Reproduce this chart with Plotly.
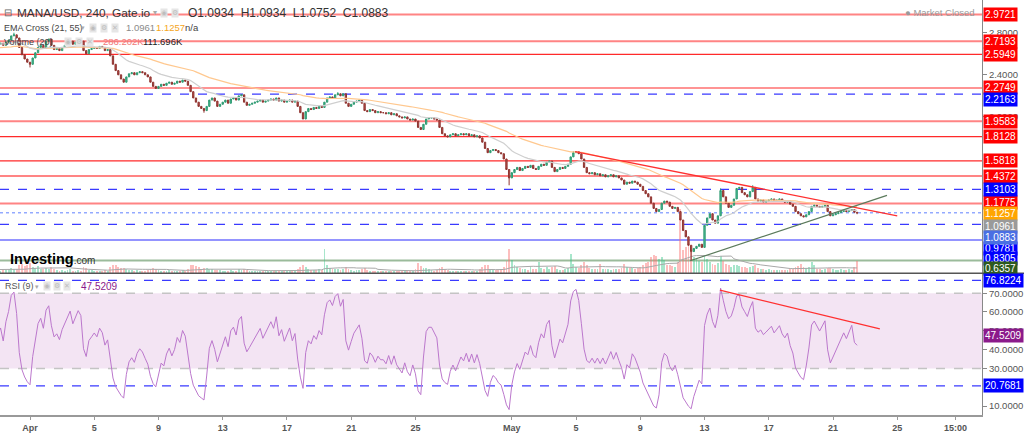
import plotly.graph_objects as go
import pandas as pd
import numpy as np

# ---------------- DATA ----------------
warmup_start = "2022-03-24 00:00"
warmup_closes = [2.58, 2.60, 2.62, 2.61, 2.63, 2.64,
                 2.62, 2.60, 2.63, 2.65, 2.66, 2.64,
                 2.62, 2.63, 2.61, 2.64, 2.66, 2.65,
                 2.66, 2.68, 2.67, 2.70, 2.72, 2.71,
                 2.74, 2.76, 2.73, 2.71, 2.70, 2.72,
                 2.73, 2.71, 2.69, 2.70, 2.68, 2.70]
warmup_volumes = [80, 70, 75, 90, 85, 70, 75, 80, 70, 65, 90, 80,
                  70, 60, 65, 75, 80, 70, 85, 90, 80, 95, 100, 85,
                  90, 95, 80, 70, 75, 80, 85, 75, 70, 65, 60, 70]

# 4h closes, one row per day, from Mar 30 00:00
closes_by_day = [
    [2.69, 2.70, 2.68, 2.71, 2.73, 2.77],  # Mar 30
    [2.78, 2.75, 2.66, 2.59, 2.55, 2.52],  # Mar 31
    [2.50, 2.56, 2.61, 2.66, 2.68, 2.65],  # Apr 1
    [2.72, 2.74, 2.68, 2.64, 2.65, 2.63],
    [2.66, 2.68, 2.70, 2.72, 2.69, 2.71],
    [2.73, 2.72, 2.63, 2.60, 2.64, 2.65],
    [2.66, 2.65, 2.67, 2.66, 2.63, 2.64],  # Apr 5
    [2.58, 2.50, 2.44, 2.40, 2.36, 2.33],
    [2.38, 2.41, 2.42, 2.40, 2.42, 2.43],
    [2.42, 2.40, 2.38, 2.33, 2.29, 2.27],
    [2.29, 2.31, 2.30, 2.32, 2.33, 2.31],  # Apr 9
    [2.32, 2.34, 2.33, 2.35, 2.34, 2.30],
    [2.24, 2.18, 2.14, 2.10, 2.08, 2.06],
    [2.10, 2.16, 2.18, 2.15, 2.10, 2.12],
    [2.14, 2.16, 2.13, 2.17, 2.18, 2.16],  # Apr 13
    [2.20, 2.21, 2.14, 2.11, 2.12, 2.13],
    [2.14, 2.15, 2.16, 2.14, 2.15, 2.16],
    [2.17, 2.16, 2.18, 2.15, 2.16, 2.14],
    [2.15, 2.16, 2.14, 2.15, 2.10, 2.04],  # Apr 17
    [1.98, 2.05, 2.08, 2.07, 2.09, 2.08],
    [2.10, 2.09, 2.14, 2.18, 2.19, 2.18],
    [2.21, 2.22, 2.20, 2.22, 2.13, 2.10],
    [2.12, 2.14, 2.15, 2.16, 2.13, 2.06],  # Apr 21
    [2.05, 2.07, 2.06, 2.04, 2.05, 2.04],
    [2.04, 2.03, 2.04, 2.02, 2.03, 2.01],
    [2.00, 1.99, 2.00, 1.98, 1.97, 1.98],
    [1.96, 1.90, 1.88, 1.93, 1.98, 1.99],  # Apr 25
    [1.99, 1.98, 1.97, 1.90, 1.84, 1.82],
    [1.81, 1.83, 1.84, 1.82, 1.83, 1.84],
    [1.83, 1.84, 1.82, 1.83, 1.81, 1.82],
    [1.80, 1.76, 1.70, 1.66, 1.68, 1.69],
    [1.68, 1.66, 1.65, 1.60, 1.50, 1.42],  # Apr 30
    [1.47, 1.50, 1.52, 1.49, 1.51, 1.53],  # May 1
    [1.52, 1.54, 1.51, 1.50, 1.53, 1.55],
    [1.54, 1.57, 1.58, 1.52, 1.48, 1.50],
    [1.52, 1.51, 1.53, 1.55, 1.62, 1.66],
    [1.67, 1.65, 1.60, 1.52, 1.47, 1.46],  # May 5
    [1.47, 1.45, 1.46, 1.44, 1.45, 1.43],
    [1.44, 1.45, 1.43, 1.44, 1.42, 1.40],
    [1.36, 1.38, 1.37, 1.39, 1.38, 1.36],
    [1.34, 1.30, 1.27, 1.24, 1.18, 1.13],  # May 9
    [1.10, 1.12, 1.18, 1.20, 1.19, 1.15],
    [1.13, 1.14, 1.10, 1.02, 0.92, 0.86],
    [0.78, 0.72, 0.75, 0.77, 0.79, 0.76],
    [0.97, 1.04, 1.08, 1.02, 0.99, 1.06],  # May 13
    [1.30, 1.24, 1.18, 1.14, 1.16, 1.22],
    [1.32, 1.33, 1.28, 1.26, 1.24, 1.29],
    [1.33, 1.22, 1.20, 1.21, 1.19, 1.20],
    [1.21, 1.22, 1.20, 1.21, 1.22, 1.20],  # May 17
    [1.19, 1.20, 1.17, 1.15, 1.10, 1.08],
    [1.06, 1.05, 1.07, 1.10, 1.15, 1.16],
    [1.15, 1.14, 1.15, 1.16, 1.10, 1.06],
    [1.07, 1.08, 1.09, 1.10, 1.11, 1.10],  # May 21
    [1.11, 1.12, 1.0934, 1.0883],          # May 22
]

volumes_by_day = [  # thousands
    [60, 55, 70, 65, 90, 120],
    [110, 95, 180, 220, 160, 200],
    [230, 150, 120, 160, 110, 90],
    [130, 100, 140, 90, 70, 60],
    [70, 60, 80, 90, 60, 55],
    [70, 60, 150, 120, 80, 70],
    [60, 50, 55, 60, 70, 55],
    [140, 200, 190, 150, 120, 130],
    [100, 80, 70, 60, 65, 60],
    [55, 60, 80, 110, 120, 100],
    [70, 60, 55, 60, 65, 50],
    [55, 60, 50, 65, 60, 90],
    [180, 200, 160, 140, 110, 120],
    [130, 100, 90, 80, 70, 65],
    [60, 55, 60, 70, 60, 50],
    [90, 80, 100, 70, 60, 55],
    [50, 45, 50, 55, 50, 45],
    [50, 45, 55, 50, 45, 50],
    [50, 55, 50, 60, 110, 150],
    [200, 150, 100, 80, 70, 75],
    [90, 70, 560, 180, 120, 100],
    [110, 100, 80, 90, 140, 110],
    [70, 60, 65, 70, 90, 130],
    [80, 60, 50, 55, 50, 45],
    [45, 50, 45, 55, 50, 45],
    [50, 45, 50, 60, 55, 50],
    [110, 230, 160, 120, 130, 90],
    [70, 60, 65, 120, 150, 110],
    [70, 60, 55, 60, 50, 55],
    [50, 55, 60, 50, 60, 55],
    [110, 150, 200, 180, 100, 80],
    [80, 70, 90, 150, 280, 540],
    [300, 180, 150, 120, 110, 90],
    [80, 150, 110, 90, 260, 120],
    [90, 140, 110, 150, 170, 100],
    [80, 70, 90, 120, 430, 220],
    [150, 120, 200, 250, 180, 130],
    [110, 90, 100, 220, 100, 90],
    [90, 80, 100, 90, 110, 120],
    [220, 150, 120, 130, 110, 120],
    [140, 200, 230, 260, 380, 420],
    [400, 330, 380, 300, 200, 180],
    [170, 150, 250, 1450, 520, 600],
    [640, 480, 380, 320, 280, 260],
    [420, 330, 260, 220, 200, 240],
    [400, 280, 220, 180, 150, 180],
    [190, 160, 150, 140, 130, 150],
    [170, 200, 120, 100, 90, 80],
    [90, 80, 70, 75, 80, 70],
    [80, 70, 90, 100, 150, 170],
    [220, 150, 120, 140, 260, 200],
    [110, 90, 80, 100, 130, 120],
    [90, 80, 85, 90, 80, 85],
    [90, 80, 150, 286.202],
]

wick_highs = {"2022-03-31 00:00": 2.80, "2022-04-20 04:00": 2.235,
              "2022-05-04 20:00": 1.675, "2022-05-16 00:00": 1.35,
              "2022-05-14 00:00": 1.32}
wick_lows = {"2022-04-01 00:00": 2.47, "2022-04-30 20:00": 1.35,
             "2022-05-12 04:00": 0.636, "2022-04-11 20:00": 2.04,
             "2022-05-22 12:00": 1.0752}

red_levels = [2.9721, 2.7193, 2.5949, 2.2749, 1.9583, 1.8128, 1.5818, 1.4372, 1.1775]
blue_dash_levels = [2.2163, 1.3103, 0.9781]
blue_solid_levels = [0.8305]
green_levels = [0.6357]
last_price = 1.0883
ema_fast_last, ema_slow_last = 1.0961, 1.1257
rsi_dash_levels = [76.8224, 20.7681]
rsi_last = 47.5209
vol_last, vol_ma_last = "286.202K", "111.696K"

price_ticks = [2.0, 2.4, 2.8]
rsi_ticks = [10, 30, 40, 50, 60, 70]

trend_red_dates = ["2022-05-04 22:30", "2022-05-25 00:00"]
trend_red_prices = [1.671, 1.059]
trend_green_dates = ["2022-05-12 02:30", "2022-05-24 08:40"]
trend_green_prices = [0.633, 1.254]
rsi_trend_dates = ["2022-05-13 23:00", "2022-05-23 22:00"]
rsi_trend_values = [71.6, 51.0]

tick_dates = ["2022-04-01 00:00", "2022-04-05 00:00", "2022-04-09 00:00", "2022-04-13 00:00",
              "2022-04-17 00:00", "2022-04-21 00:00", "2022-04-25 00:00", "2022-05-01 00:00",
              "2022-05-05 00:00", "2022-05-09 00:00", "2022-05-13 00:00", "2022-05-17 00:00",
              "2022-05-21 00:00", "2022-05-25 00:00", "2022-05-28 15:00"]
tick_text = ["Apr", "5", "9", "13", "17", "21", "25", "May", "5", "9", "13", "17", "21", "25", "15:00"]

# ---------------- DERIVED ----------------
closes = [v for d in closes_by_day for v in d]
volumes = [v for d in volumes_by_day for v in d]
all_c = pd.Series(warmup_closes + closes,
                  index=pd.date_range(warmup_start, periods=len(warmup_closes) + len(closes), freq="4h"))
all_v = pd.Series(warmup_volumes + volumes, index=all_c.index)
opens = all_c.shift(1).fillna(all_c.iloc[0])
highs = np.maximum(opens, all_c)
lows = np.minimum(opens, all_c)
for k, v in wick_highs.items():
    highs[pd.Timestamp(k)] = v
for k, v in wick_lows.items():
    lows[pd.Timestamp(k)] = v
ema21 = all_c.ewm(span=21, adjust=False).mean()
ema55 = all_c.ewm(span=55, adjust=False).mean()
vol_ma = all_v.rolling(20, min_periods=1).mean()
delta = all_c.diff().fillna(0)
ag = delta.clip(lower=0).ewm(alpha=1 / 9, adjust=False).mean()
al = (-delta.clip(upper=0)).ewm(alpha=1 / 9, adjust=False).mean()
rsi = 100 - 100 / (1 + ag / al)
idx = all_c.index

# ---------------- LAYOUT HELPERS ----------------
PLOT_R, MAIN_B, PLOT_B = 982, 276, 419
def px(x): return x / PLOT_R
def py(y): return 1 - y / PLOT_B

FONT = "Liberation Sans, Arial, sans-serif"
x_range = [pd.Timestamp("2022-04-01") - pd.Timedelta(days=30 / 16.06),
           pd.Timestamp("2022-04-01") + pd.Timedelta(days=952 / 16.06)]

fig = go.Figure()

vol_colors = ["rgba(60,200,140,0.45)" if c >= o else "rgba(250,110,110,0.45)"
              for o, c in zip(opens, all_c)]
fig.add_trace(go.Bar(x=idx, y=all_v, marker=dict(color=vol_colors, line=dict(width=0)),
                     xaxis="x", yaxis="y", width=4 * 3600 * 1000 * 0.7))
fig.add_trace(go.Scatter(x=idx, y=vol_ma, mode="lines", line=dict(color="#a8a8a8", width=1),
                         xaxis="x", yaxis="y"))
fig.add_trace(go.Scatter(x=idx, y=ema55, mode="lines", line=dict(color="#ffc88f", width=1.2),
                         xaxis="x", yaxis="y3"))
fig.add_trace(go.Scatter(x=idx, y=ema21, mode="lines", line=dict(color="#cfcfcf", width=1.2),
                         xaxis="x", yaxis="y3"))
fig.add_trace(go.Candlestick(x=idx, open=opens, high=highs, low=lows, close=all_c,
                             xaxis="x", yaxis="y3", whiskerwidth=0,
                             increasing=dict(line=dict(color="#2f9a72", width=1), fillcolor="#4cc39a"),
                             decreasing=dict(line=dict(color="#8e3430", width=1), fillcolor="#c0504d")))
fig.add_trace(go.Scatter(x=pd.to_datetime(trend_red_dates), y=trend_red_prices, mode="lines",
                         line=dict(color="#ff3030", width=1.3), xaxis="x", yaxis="y3"))
fig.add_trace(go.Scatter(x=pd.to_datetime(trend_green_dates), y=trend_green_prices, mode="lines",
                         line=dict(color="#5b7a5b", width=1.2), xaxis="x", yaxis="y3"))
fig.add_trace(go.Scatter(x=idx, y=rsi, mode="lines", line=dict(color="#bb77cc", width=1),
                         xaxis="x2", yaxis="y2"))
fig.add_trace(go.Scatter(x=pd.to_datetime(rsi_trend_dates), y=rsi_trend_values, mode="lines",
                         line=dict(color="#ff3030", width=1.2), xaxis="x2", yaxis="y2"))

shapes = []
thick_pink = {2.9721, 2.7193, 1.9583, 1.4372, 1.1775}
for v in red_levels:
    if v in thick_pink:
        ln = dict(color="rgba(255,80,80,0.7)", width=2)
    else:
        ln = dict(color="#ff2a2a", width=1.2)
    shapes.append(dict(type="line", xref="paper", x0=0, x1=1, yref="y3", y0=v, y1=v, line=ln, layer="below"))
for v in blue_dash_levels:
    shapes.append(dict(type="line", xref="paper", x0=0, x1=1, yref="y3", y0=v, y1=v,
                       line=dict(color="#3a3aff", width=1.2, dash="dash"), layer="below"))
for v in blue_solid_levels:
    shapes.append(dict(type="line", xref="paper", x0=0, x1=1, yref="y3", y0=v, y1=v,
                       line=dict(color="#7070ff", width=1.5), layer="below"))
for v in green_levels:
    shapes.append(dict(type="line", xref="paper", x0=0, x1=1, yref="y3", y0=v, y1=v,
                       line=dict(color="#9bbb9b", width=2), layer="below"))
shapes.append(dict(type="line", xref="paper", x0=0, x1=1, yref="y3", y0=last_price, y1=last_price,
                   line=dict(color="#5f7fff", width=1, dash="dot"), layer="below"))
# RSI band
shapes.append(dict(type="rect", xref="paper", x0=0, x1=1, yref="y2", y0=30, y1=70,
                   fillcolor="#f3e4f3", line=dict(width=0), layer="below"))
for v in (70, 30):
    shapes.append(dict(type="line", xref="paper", x0=0, x1=1, yref="y2", y0=v, y1=v,
                       line=dict(color="#c4c4c4", width=1.5, dash="dash"), layer="below"))
for v in rsi_dash_levels:
    shapes.append(dict(type="line", xref="paper", x0=0, x1=1, yref="y2", y0=v, y1=v,
                       line=dict(color="#3a3aff", width=1.2, dash="dash"), layer="below"))
# pane separator
shapes.append(dict(type="line", xref="paper", x0=0, x1=1.045, yref="paper", y0=py(MAIN_B), y1=py(MAIN_B),
                   line=dict(color="#555", width=1.5)))

ann = []
def rlabel(v, color, yref="y3", shift=0, fmt="{:.4f}"):
    ann.append(dict(x=1, xref="paper", xanchor="left", xshift=1, y=v, yref=yref, yshift=shift,
                    text=fmt.format(v), showarrow=False, bgcolor=color, borderpad=1,
                    font=dict(color="white", size=10, family=FONT)))

label_shift = {2.2163: -5, 1.1775: 1, 1.1257: -5, 1.0961: -14, 1.0883: -25, 0.9781: -24,
               0.8305: -19, 0.6357: -8}
for v in red_levels:
    rlabel(v, "#ff0000", shift=label_shift.get(v, 0))
for v in blue_dash_levels + blue_solid_levels:
    rlabel(v, "#0000ff", shift=label_shift.get(v, 0))
rlabel(ema_slow_last, "#ffa500", shift=label_shift[ema_slow_last])
rlabel(ema_fast_last, "#9a9a9a", shift=label_shift[ema_fast_last])
rlabel(last_price, "#4a6fe3", shift=label_shift[last_price])
rlabel(green_levels[0], "#2e5a1e", shift=label_shift[green_levels[0]])
for v in rsi_dash_levels:
    rlabel(v, "#0000ff", yref="y2")
rlabel(rsi_last, "#8b1a8b", yref="y2")

def text(x, y, s, size=11, color="#333", anchor="left"):
    ann.append(dict(x=px(x), y=py(y), xref="paper", yref="paper", xanchor=anchor, yanchor="middle",
                    text=s, showarrow=False, font=dict(size=size, color=color, family=FONT)))

def icons(xs, y):
    for x, g in zip(xs, ["◉", "⚙", "✕"]):
        ann.append(dict(x=px(x), y=py(y), xref="paper", yref="paper", xanchor="center", yanchor="middle",
                        text=g, showarrow=False, bgcolor="#e6e6e6", borderpad=0,
                        font=dict(size=7, color="#bdbdbd", family="DejaVu Sans")))

text(2, 13, "⊟", 10, "#666")
text(15, 13, "MANA/USD, 240, Gate.io", 11.8, "#333")
text(151, 13, "▾", 8, "#aaa")
icons([164, 175], 13)
text(186, 13, "O1.0934  H1.0934  L1.0752  C1.0883", 12, "#333")
text(977, 13, "● Market Closed", 9.5, "#9a9a9a", anchor="right")
text(2, 28, "EMA Cross (21, 55)", 9, "#444")
text(79, 28, "▾", 7, "#aaa")
icons([93, 104, 115], 28)
text(124, 28, f"{ema_fast_last:.4f}", 9.5, "#8a8a8a")
text(154, 28, f"{ema_slow_last:.4f}", 9.5, "#f5a623")
text(183, 28, "n/a", 9.5, "#444")
text(2, 42, "Volume (20)", 9, "#444")
icons([68, 79, 90], 42)
text(101, 42, vol_last, 9.5, "#f07878")
text(141, 42, vol_ma_last, 9.5, "#222")
text(3, 289, "RSI (9)", 9, "#555")
text(33, 289, "▾", 7, "#aaa")
icons([47, 57, 67], 289)
text(79, 289, f"{rsi_last:.4f}", 10, "#8b1a8b")
ann.append(dict(x=px(8), y=py(262), xref="paper", yref="paper", xanchor="left", yanchor="middle",
                text="<b>Investing</b><span style='font-size:10px;color:#333'>.com</span>",
                showarrow=False, font=dict(size=14.5, color="#000", family=FONT)))

axis_common = dict(showgrid=False, zeroline=False)
fig.update_layout(
    width=1024, height=433, margin=dict(l=0, r=42, t=0, b=14),
    paper_bgcolor="white", plot_bgcolor="white", showlegend=False, hovermode=False,
    bargap=0,
    xaxis=dict(domain=[0, 1], anchor="y", range=x_range, type="date", showticklabels=False,
               rangeslider=dict(visible=False), showline=False, ticks="", **axis_common),
    xaxis2=dict(domain=[0, 1], anchor="y2", range=x_range, type="date", matches="x",
                tickvals=pd.to_datetime(tick_dates), ticktext=tick_text, ticks="outside", ticklen=3,
                tickcolor="#999", showline=True, linecolor="#999", linewidth=1.5,
                tickfont=dict(size=9, color="#555", family=FONT, weight="bold"), **axis_common),
    yaxis=dict(domain=[py(MAIN_B), 1], anchor="x", range=[0, 276 * 22.4], visible=False, **axis_common),
    yaxis3=dict(overlaying="y", anchor="x", side="right", range=[0.513, 3.111],
                tickvals=price_ticks, tickformat=".4f", ticks="outside", ticklen=4,
                tickcolor="#888", showline=True, linecolor="#888",
                tickfont=dict(size=9.5, color="#555", family=FONT), **axis_common),
    yaxis2=dict(domain=[0, py(MAIN_B + 1)], anchor="x2", side="right", range=[5.26, 80],
                tickvals=rsi_ticks, tickformat=".4f", ticks="outside", ticklen=4,
                tickcolor="#888", showline=True, linecolor="#888",
                tickfont=dict(size=9.5, color="#555", family=FONT), **axis_common),
    shapes=shapes, annotations=ann,
)

fig.write_html("out.html", config={"displayModeBar": False})
